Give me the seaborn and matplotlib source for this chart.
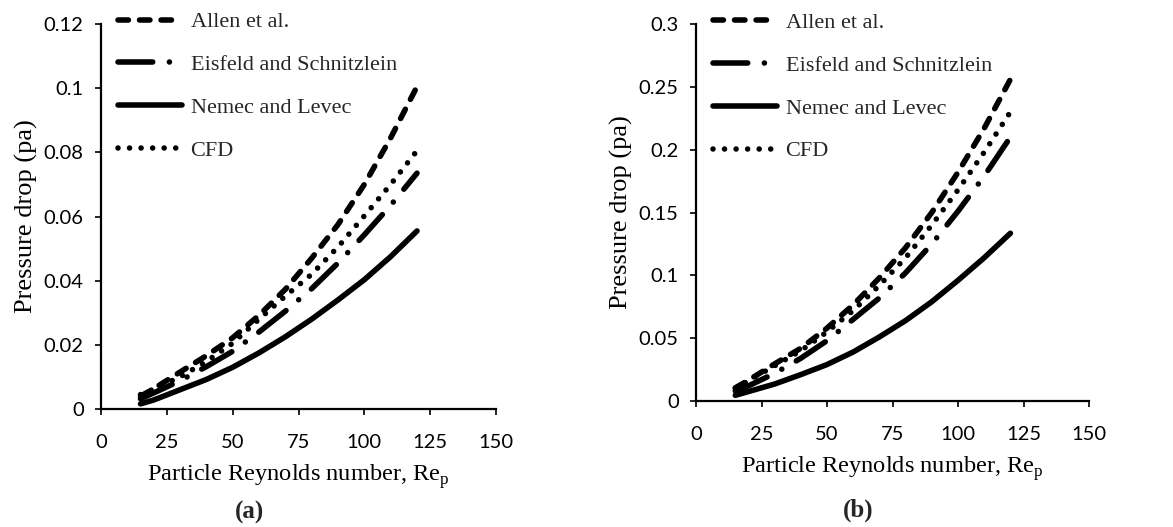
import numpy as np
import pandas as pd
import matplotlib
matplotlib.use("Agg")
import matplotlib.pyplot as plt
import seaborn as sns

# ---- data ----
re_p = [15, 20, 30, 40, 50, 60, 70, 80, 90, 100, 110, 120]
series_names = ["Allen et al.", "Eisfeld and Schnitzlein", "Nemec and Levec", "CFD"]

allen_a = [0.0040, 0.0063, 0.0115, 0.0166, 0.0222, 0.0292, 0.0373, 0.0470, 0.0575, 0.0700, 0.0845, 0.1005]
eisfeld_a = [0.0032, 0.0050, 0.0088, 0.0132, 0.0180, 0.0240, 0.0305, 0.0375, 0.0455, 0.0543, 0.0635, 0.0735]
nemec_a = [0.0016, 0.0028, 0.0060, 0.0092, 0.0130, 0.0175, 0.0225, 0.0280, 0.0340, 0.0403, 0.0475, 0.0555]
cfd_a = [0.0045, 0.0062, 0.0100, 0.0148, 0.0205, 0.0280, 0.0352, 0.0420, 0.0505, 0.0602, 0.0700, 0.0805]

allen_b = [0.0105, 0.0165, 0.0295, 0.0420, 0.0580, 0.0765, 0.0980, 0.1220, 0.1500, 0.1820, 0.2170, 0.2560]
eisfeld_b = [0.0080, 0.0120, 0.0220, 0.0340, 0.0480, 0.0650, 0.0820, 0.1020, 0.1250, 0.1510, 0.1790, 0.2100]
nemec_b = [0.0045, 0.0075, 0.0135, 0.0210, 0.0290, 0.0390, 0.0510, 0.0640, 0.0790, 0.0960, 0.1140, 0.1335]
cfd_b = [0.0100, 0.0160, 0.0280, 0.0400, 0.0550, 0.0720, 0.0920, 0.1140, 0.1400, 0.1680, 0.1980, 0.2300]

xticks = [0, 25, 50, 75, 100, 125, 150]
yticks_a = [0, 0.02, 0.04, 0.06, 0.08, 0.1, 0.12]
yticklabels_a = ["0", "0.02", "0.04", "0.06", "0.08", "0.1", "0.12"]
yticks_b = [0, 0.05, 0.1, 0.15, 0.2, 0.25, 0.3]
yticklabels_b = ["0", "0.05", "0.1", "0.15", "0.2", "0.25", "0.3"]
xlabel = "Particle Reynolds number, Re$_\\mathregular{p}$"
ylabel = "Pressure drop (pa)"
panel_labels = ["(a)", "(b)"]

# ---- styling ----
sns.set_theme(style="white")
plt.rcParams["lines.scale_dashes"] = False
plt.rcParams["font.family"] = ["Lato", "DejaVu Sans"]

dash_map = {
    "Allen et al.": (7.5, 8.0),
    "Eisfeld and Schnitzlein": (25.0, 12.0, 0.01, 12.0),
    "Nemec and Levec": "",
    "CFD": (0.01, 8.3),
}

serif = ["Liberation Serif", "DejaVu Serif"]

fig = plt.figure(figsize=(11.73, 5.27), dpi=100)
W, H = 1173, 527


def make_axes(l, r, t, b):
    return fig.add_axes([l / W, 1 - b / H, (r - l) / W, (b - t) / H])


panels = [
    (make_axes(101, 496, 24, 409), [allen_a, eisfeld_a, nemec_a, cfd_a], 0.12, yticks_a, yticklabels_a),
    (make_axes(696, 1089, 24, 401), [allen_b, eisfeld_b, nemec_b, cfd_b], 0.3, yticks_b, yticklabels_b),
]

for i, (ax, vals, ymax, yt, ytl) in enumerate(panels):
    frames = []
    for name, v in zip(series_names, vals):
        frames.append(pd.DataFrame({"Re": re_p, "dp": v, "series": name}))
    df = pd.concat(frames, ignore_index=True)
    sns.lineplot(data=df, x="Re", y="dp", style="series", style_order=series_names,
                 dashes=dash_map, color="black", linewidth=4.0, legend=False, ax=ax,
                 dash_capstyle="round", solid_capstyle="round")
    ax.set_xlim(0, 150)
    ax.set_ylim(0, ymax)
    ax.set_xticks(xticks)
    ax.set_xticklabels([str(t) for t in xticks])
    ax.set_yticks(yt)
    ax.set_yticklabels(ytl)
    for s in ["top", "right"]:
        ax.spines[s].set_visible(False)
    for s in ["left", "bottom"]:
        ax.spines[s].set_color("black")
        ax.spines[s].set_linewidth(1.6)
    ax.tick_params(axis="both", which="major", direction="out", length=4.5, width=1.2,
                   color="black", labelsize=14.5, labelcolor="black", bottom=True, left=True)
    ax.tick_params(axis="x", pad=13.5)
    ax.tick_params(axis="y", pad=8)
    ax.set_xlabel(xlabel, family=serif, fontsize=17.6, color="black", labelpad=8)
    ax.set_ylabel(ylabel, family=serif, fontsize=19, color="black", labelpad=4)
    ax.grid(False)
    handles = ax.get_lines()[:4]
    ax.legend(handles, series_names, loc="upper left", bbox_to_anchor=(0.0, 1.075),
              frameon=False, prop={"family": serif, "size": 16},
              handlelength=2.9, handletextpad=0.38, labelspacing=1.0, borderaxespad=0.35)

fig.text(250 / W, 1 - 512 / H, panel_labels[0], family=serif, fontsize=18, fontweight="bold",
         ha="center", va="center")
fig.text(858 / W, 1 - 510 / H, panel_labels[1], family=serif, fontsize=18, fontweight="bold",
         ha="center", va="center")

fig.savefig("out.png", dpi=100, facecolor="white")
